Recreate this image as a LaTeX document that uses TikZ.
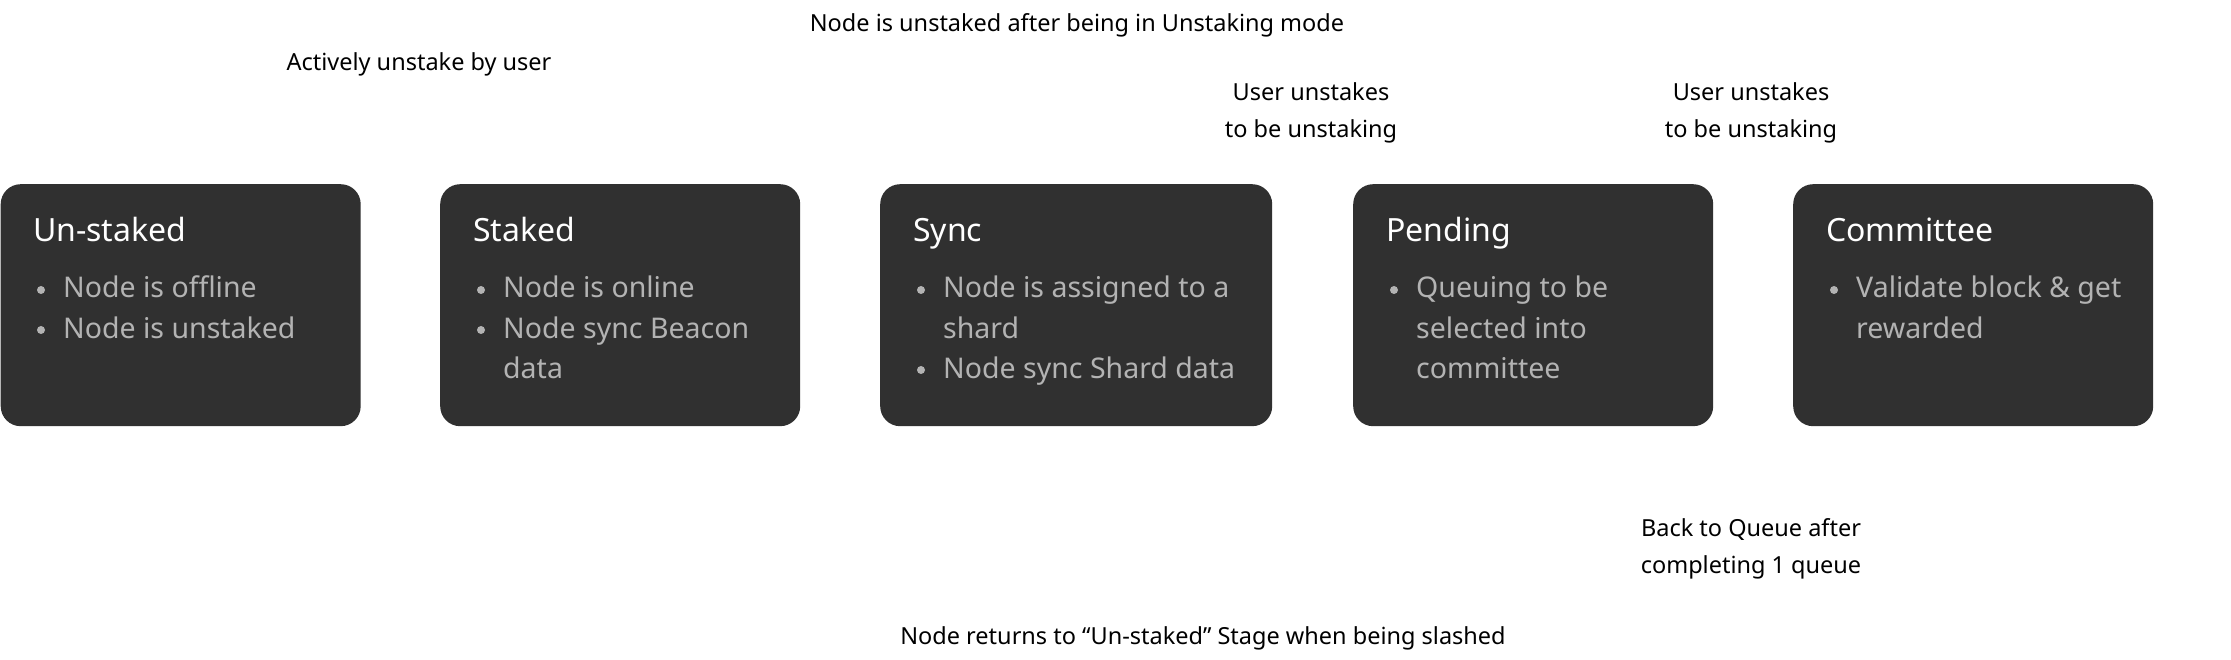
\documentclass[tikz,border=0pt]{standalone}
\usepackage{fontspec}
\setmainfont{Noto Sans}
\definecolor{boxfill}{HTML}{303030}
\definecolor{bulletgray}{HTML}{B3B3B3}
\begin{document}
\begin{tikzpicture}[x=1pt,y=-1pt,
  stagebox/.style={draw=none,fill=boxfill,rounded corners=20pt,minimum height=242pt,inner sep=0pt,anchor=north west},
  title/.style={anchor=base west,text=white,font=\fontsize{32}{38}\selectfont,inner sep=0pt},
  item/.style={anchor=base west,text=bulletgray,font=\fontsize{28.5}{34}\selectfont,inner sep=0pt},
  dot/.style={circle,fill=bulletgray,minimum size=8pt,inner sep=0pt},
  lbl/.style={anchor=base,text=black,font=\fontsize{23.5}{28}\selectfont,inner sep=0pt}]
\useasboundingbox (0,0) rectangle (2231,660);
% boxes
\node[stagebox,minimum width=360pt] (b1) at (0.5,184) {};
\node[stagebox,minimum width=360pt] (b2) at (440,184) {};
\node[stagebox,minimum width=392pt] (b3) at (880,184) {};
\node[stagebox,minimum width=360pt] (b4) at (1353,184) {};
\node[stagebox,minimum width=360pt] (b5) at (1793,184) {};
% titles
\node[title] (t1) at (33,242) {Un-staked};
\node[title] (t2) at (473,242) {Staked};
\node[title] (t3) at (913,242) {Sync};
\node[title] (t4) at (1386,242) {Pending};
\node[title] (t5) at (1826,242) {Committee};
% box 1
\node[dot] (d11) at (41,290) {};
\node[item] (i11) at (63,298) {Node is offline};
\node[dot] (d12) at (41,330) {};
\node[item] (i12) at (63,338) {Node is unstaked};
% box 2
\node[dot] (d21) at (481,290) {};
\node[item] (i21) at (503,298) {Node is online};
\node[dot] (d22) at (481,330) {};
\node[item] (i22) at (503,338) {Node sync Beacon};
\node[item] (i23) at (503,378) {data};
% box 3
\node[dot] (d31) at (921,290) {};
\node[item] (i31) at (943,298) {Node is assigned to a};
\node[item] (i32) at (943,338) {shard};
\node[dot] (d32) at (921,370) {};
\node[item] (i33) at (943,378) {Node sync Shard data};
% box 4
\node[dot] (d41) at (1394,290) {};
\node[item] (i41) at (1416,298) {Queuing to be};
\node[item] (i42) at (1416,338) {selected into};
\node[item] (i43) at (1416,378) {committee};
% box 5
\node[dot] (d51) at (1834,290) {};
\node[item] (i51) at (1856,298) {Validate block \& get};
\node[item] (i52) at (1856,338) {rewarded};
% labels
\node[lbl] (l1) at (1077,32) {Node is unstaked after being in Unstaking mode};
\node[lbl] (l2) at (419,71) {Actively unstake by user};
\node[lbl] (l3a) at (1311,101) {User unstakes};
\node[lbl] (l3b) at (1311,138) {to be unstaking};
\node[lbl] (l4a) at (1751,101) {User unstakes};
\node[lbl] (l4b) at (1751,138) {to be unstaking};
\node[lbl] (l5a) at (1751,536) {Back to Queue after};
\node[lbl] (l5b) at (1751,573) {completing 1 queue};
\node[lbl] (l6) at (1203,644) {Node returns to “Un-staked” Stage when being slashed};
\end{tikzpicture}
\end{document}
